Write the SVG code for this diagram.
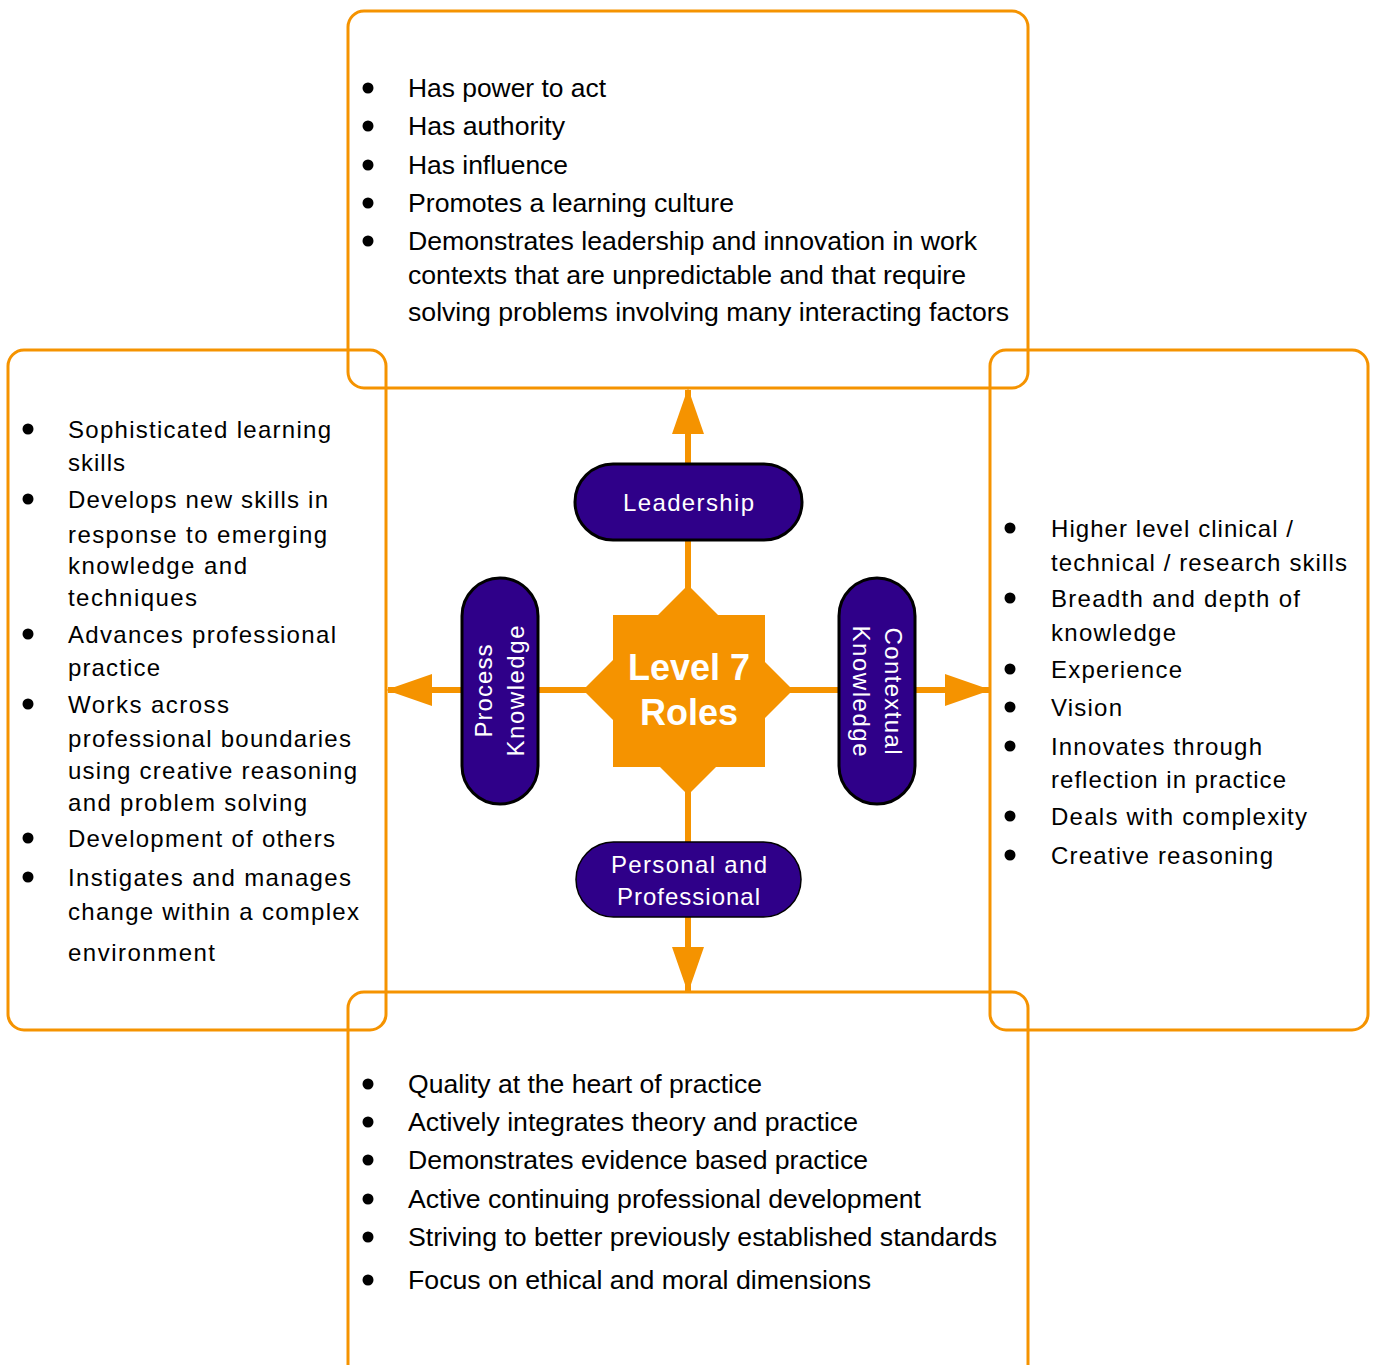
<svg xmlns="http://www.w3.org/2000/svg" width="1374" height="1365" viewBox="0 0 1374 1365">
  <style>
    .frame { fill: none; stroke: #F59300; stroke-width: 3; }
    .wire { stroke: #F59300; stroke-width: 6; fill: none; }
    .pill { fill: #2F0089; stroke: #000; stroke-width: 3; }
    .pill-label { fill: #fff; font-family: "Liberation Sans", Arial, sans-serif; font-size: 24px; text-anchor: middle; }
    .hub { fill: #F59300; }
    .hub-label { fill: #fff; font-family: "Liberation Sans", Arial, sans-serif; font-size: 36px; font-weight: bold; text-anchor: middle; }
    .item { fill: #000; font-family: "Liberation Sans", Arial, sans-serif; font-size: 24px; }
    .narrow { font-size: 25px; }
    .dot { fill: #000; }
  </style>
  <defs>
    <marker id="arrowhead" markerUnits="userSpaceOnUse" markerWidth="46" markerHeight="32" viewBox="0 0 46 32" refX="44" refY="16" orient="auto">
      <path d="M0,0 L46,16 L0,32 Z" fill="#F59300"/>
    </marker>
  </defs>
  <rect width="1374" height="1365" fill="#fff"/>

  <!-- Top frame: leadership -->
  <g id="box-top">
    <rect class="frame" x="348" y="11" width="680" height="377" rx="16"/>
    <g class="dot">
      <circle cx="368" cy="88" r="5.5"/><circle cx="368" cy="126" r="5.5"/><circle cx="368" cy="165" r="5.5"/>
      <circle cx="368" cy="203" r="5.5"/><circle cx="368" cy="241" r="5.5"/>
    </g>
    <g class="item narrow" lengthAdjust="spacingAndGlyphs">
      <text x="408" y="97" textLength="198" lengthAdjust="spacingAndGlyphs">Has power to act</text>
      <text x="408" y="135" textLength="157" lengthAdjust="spacingAndGlyphs">Has authority</text>
      <text x="408" y="174" textLength="160" lengthAdjust="spacingAndGlyphs">Has influence</text>
      <text x="408" y="212" textLength="326" lengthAdjust="spacingAndGlyphs">Promotes a learning culture</text>
      <text x="408" y="250" textLength="569" lengthAdjust="spacingAndGlyphs">Demonstrates leadership and innovation in work</text>
      <text x="408" y="284" textLength="558" lengthAdjust="spacingAndGlyphs">contexts that are unpredictable and that require</text>
      <text x="408" y="321" textLength="601" lengthAdjust="spacingAndGlyphs">solving problems involving many interacting factors</text>
    </g>
  </g>

  <!-- Left frame: process knowledge -->
  <g id="box-left">
    <rect class="frame" x="8" y="350" width="378" height="680" rx="16"/>
    <g class="dot">
      <circle cx="28" cy="429" r="5.5"/><circle cx="28" cy="499" r="5.5"/><circle cx="28" cy="634" r="5.5"/>
      <circle cx="28" cy="704" r="5.5"/><circle cx="28" cy="838" r="5.5"/><circle cx="28" cy="877" r="5.5"/>
    </g>
    <g class="item">
      <text x="68" y="438" textLength="263" lengthAdjust="spacing">Sophisticated learning</text>
      <text x="68" y="471" textLength="57" lengthAdjust="spacing">skills</text>
      <text x="68" y="508" textLength="260" lengthAdjust="spacing">Develops new skills in</text>
      <text x="68" y="543" textLength="259" lengthAdjust="spacing">response to emerging</text>
      <text x="68" y="574" textLength="179" lengthAdjust="spacing">knowledge and</text>
      <text x="68" y="606" textLength="129" lengthAdjust="spacing">techniques</text>
      <text x="68" y="643" textLength="268" lengthAdjust="spacing">Advances professional</text>
      <text x="68" y="676" textLength="92" lengthAdjust="spacing">practice</text>
      <text x="68" y="713" textLength="161" lengthAdjust="spacing">Works across</text>
      <text x="68" y="747" textLength="283" lengthAdjust="spacing">professional boundaries</text>
      <text x="68" y="779" textLength="289" lengthAdjust="spacing">using creative reasoning</text>
      <text x="68" y="811" textLength="239" lengthAdjust="spacing">and problem solving</text>
      <text x="68" y="847" textLength="267" lengthAdjust="spacing">Development of others</text>
      <text x="68" y="886" textLength="283" lengthAdjust="spacing">Instigates and manages</text>
      <text x="68" y="920" textLength="291" lengthAdjust="spacing">change within a complex</text>
      <text x="68" y="961" textLength="147" lengthAdjust="spacing">environment</text>
    </g>
  </g>

  <!-- Right frame: contextual knowledge -->
  <g id="box-right">
    <rect class="frame" x="990" y="350" width="378" height="680" rx="16"/>
    <g class="dot">
      <circle cx="1010" cy="528" r="5.5"/><circle cx="1010" cy="598" r="5.5"/><circle cx="1010" cy="669" r="5.5"/>
      <circle cx="1010" cy="707" r="5.5"/><circle cx="1010" cy="746" r="5.5"/><circle cx="1010" cy="816" r="5.5"/>
      <circle cx="1010" cy="855" r="5.5"/>
    </g>
    <g class="item">
      <text x="1051" y="537" textLength="242" lengthAdjust="spacing">Higher level clinical /</text>
      <text x="1051" y="571" textLength="296" lengthAdjust="spacing">technical / research skills</text>
      <text x="1051" y="607" textLength="249" lengthAdjust="spacing">Breadth and depth of</text>
      <text x="1051" y="641" textLength="125" lengthAdjust="spacing">knowledge</text>
      <text x="1051" y="678" textLength="131" lengthAdjust="spacing">Experience</text>
      <text x="1051" y="716" textLength="71" lengthAdjust="spacing">Vision</text>
      <text x="1051" y="755" textLength="211" lengthAdjust="spacing">Innovates through</text>
      <text x="1051" y="788" textLength="235" lengthAdjust="spacing">reflection in practice</text>
      <text x="1051" y="825" textLength="256" lengthAdjust="spacing">Deals with complexity</text>
      <text x="1051" y="864" textLength="222" lengthAdjust="spacing">Creative reasoning</text>
    </g>
  </g>

  <!-- Bottom frame: personal and professional -->
  <g id="box-bottom">
    <rect class="frame" x="348" y="992" width="680" height="390" rx="16"/>
    <g class="dot">
      <circle cx="368" cy="1084" r="5.5"/><circle cx="368" cy="1122" r="5.5"/><circle cx="368" cy="1160" r="5.5"/>
      <circle cx="368" cy="1199" r="5.5"/><circle cx="368" cy="1237" r="5.5"/><circle cx="368" cy="1280" r="5.5"/>
    </g>
    <g class="item narrow">
      <text x="408" y="1093" textLength="354" lengthAdjust="spacingAndGlyphs">Quality at the heart of practice</text>
      <text x="408" y="1131" textLength="450" lengthAdjust="spacingAndGlyphs">Actively integrates theory and practice</text>
      <text x="408" y="1169" textLength="460" lengthAdjust="spacingAndGlyphs">Demonstrates evidence based practice</text>
      <text x="408" y="1208" textLength="513" lengthAdjust="spacingAndGlyphs">Active continuing professional development</text>
      <text x="408" y="1246" textLength="589" lengthAdjust="spacingAndGlyphs">Striving to better previously established standards</text>
      <text x="408" y="1289" textLength="463" lengthAdjust="spacingAndGlyphs">Focus on ethical and moral dimensions</text>
    </g>
  </g>

  <!-- Connectors from the hub out to the four frames -->
  <g id="connectors">
    <line class="wire" x1="688" y1="600" x2="688" y2="390" marker-end="url(#arrowhead)"/>
    <line class="wire" x1="688" y1="780" x2="688" y2="991" marker-end="url(#arrowhead)"/>
    <line class="wire" x1="600" y1="690" x2="388" y2="690" marker-end="url(#arrowhead)"/>
    <line class="wire" x1="780" y1="690" x2="989" y2="690" marker-end="url(#arrowhead)"/>
  </g>

  <g id="node-leadership">
    <rect class="pill" x="575" y="464" width="227" height="76" rx="38"/>
    <text class="pill-label" x="688.5" y="511" textLength="131" lengthAdjust="spacing">Leadership</text>
  </g>

  <g id="node-personal">
    <rect class="pill" x="576" y="842" width="225" height="75" rx="37.5" style="stroke-width:1.5"/>
    <text class="pill-label" x="689" y="873" textLength="156" lengthAdjust="spacing">Personal and</text>
    <text class="pill-label" x="688.5" y="905" textLength="143" lengthAdjust="spacing">Professional</text>
  </g>

  <g id="node-process">
    <rect class="pill" x="462" y="578" width="76" height="226" rx="38"/>
    <g transform="translate(500 691) rotate(-90)">
      <text class="pill-label" x="0" y="-8" textLength="93" lengthAdjust="spacing">Process</text>
      <text class="pill-label" x="0" y="24" textLength="131" lengthAdjust="spacing">Knowledge</text>
    </g>
  </g>

  <g id="node-contextual">
    <rect class="pill" x="839" y="578" width="76" height="226" rx="38"/>
    <g transform="translate(877 691) rotate(90)">
      <text class="pill-label" x="0" y="-8" textLength="127" lengthAdjust="spacing">Contextual</text>
      <text class="pill-label" x="0" y="24" textLength="131" lengthAdjust="spacing">Knowledge</text>
    </g>
  </g>

  <g id="node-hub">
    <rect class="hub" x="613" y="615" width="152" height="152"/>
    <polygon class="hub" points="688,585 793,690 688,795 583,690"/>
    <text class="hub-label" x="689" y="680">Level 7</text>
    <text class="hub-label" x="689" y="725">Roles</text>
  </g>
</svg>
